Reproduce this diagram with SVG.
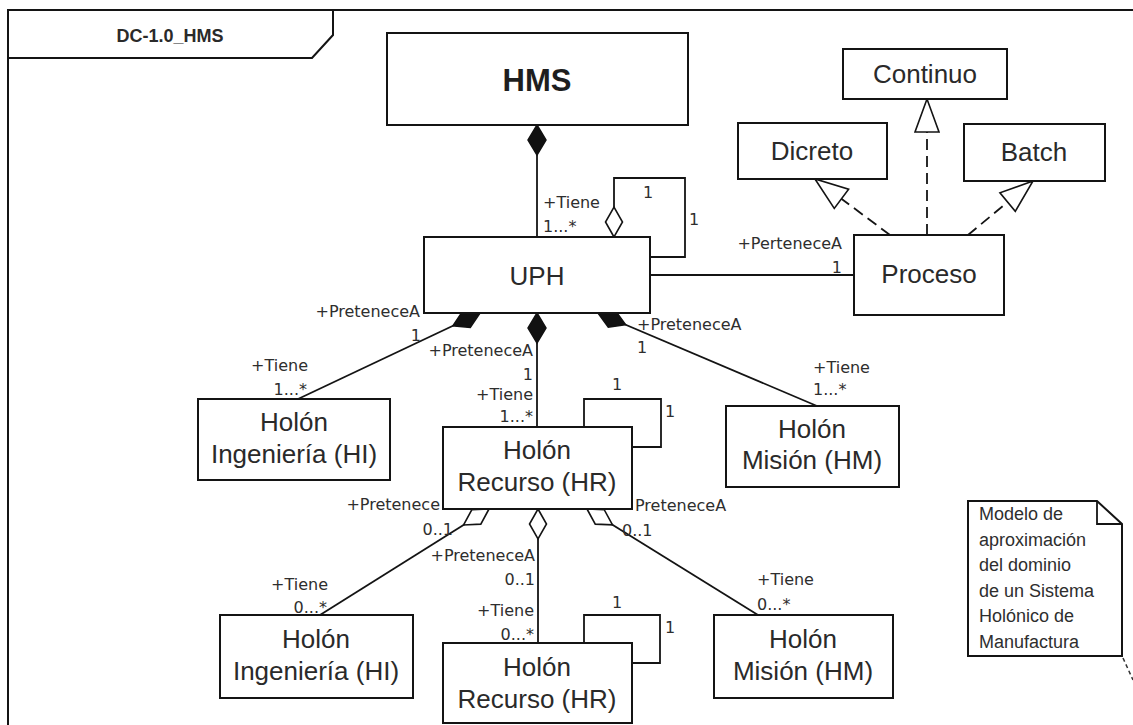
<svg xmlns="http://www.w3.org/2000/svg" width="1133" height="725" viewBox="0 0 1133 725">
  <style>
    .box { fill: #ffffff; stroke: #141414; stroke-width: 2; }
    .name { font-family: "Liberation Sans", Arial, sans-serif; font-size: 26px; fill: #2a2a2a; text-anchor: middle; }
    .lbl { font-family: "DejaVu Sans", Verdana, sans-serif; font-size: 16px; fill: #2e2e2e; }
    .end { text-anchor: end; }
    .mid { text-anchor: middle; }
    .assoc { fill: none; stroke: #141414; stroke-width: 1.8; }
    .real { fill: none; stroke: #141414; stroke-width: 1.8; stroke-dasharray: 11 6; }
    .note { font-family: "Liberation Sans", Arial, sans-serif; font-size: 18px; fill: #2e2e2e; }
  </style>
  <defs>
    <!-- composition: filled diamond at the whole side -->
    <marker id="comp" markerUnits="userSpaceOnUse" markerWidth="40" markerHeight="30" refX="0" refY="0" orient="auto" overflow="visible">
      <path d="M0,0 L15,-9 L30,0 L15,9 Z" fill="#111111" stroke="#111111" stroke-width="1.5" stroke-dasharray="none"/>
    </marker>
    <!-- aggregation: hollow diamond -->
    <marker id="aggr" markerUnits="userSpaceOnUse" markerWidth="40" markerHeight="30" refX="0" refY="0" orient="auto" overflow="visible">
      <path d="M0,0 L15,-8.5 L30,0 L15,8.5 Z" fill="#ffffff" stroke="#141414" stroke-width="1.6" stroke-dasharray="none"/>
    </marker>
    <!-- realization: hollow triangle -->
    <marker id="tri" markerUnits="userSpaceOnUse" markerWidth="40" markerHeight="30" refX="0" refY="0" orient="auto" overflow="visible">
      <path d="M0,0 L-33,-12 L-33,12 Z" fill="#ffffff" stroke="#141414" stroke-width="1.6" stroke-dasharray="none"/>
    </marker>
  </defs>

  <rect x="0" y="0" width="1133" height="725" fill="#ffffff"/>

  <!-- diagram frame -->
  <g id="frame">
    <path d="M8,725 L8,10 L1133,10" fill="none" stroke="#141414" stroke-width="2"/>
    <path d="M8,58 L312,58 L333,35 L333,10" fill="none" stroke="#141414" stroke-width="2"/>
    <text x="170" y="42" font-family="'Liberation Sans', Arial, sans-serif" font-size="18" font-weight="bold" fill="#2a2a2a" text-anchor="middle">DC-1.0_HMS</text>
  </g>

  <!-- connectors -->
  <g id="connectors">
    <!-- HMS to UPH -->
    <path class="assoc" d="M537,125 L537,237" marker-start="url(#comp)"/>
    <text class="lbl" x="543" y="208">+Tiene</text>
    <text class="lbl" x="543" y="232">1...*</text>

    <!-- UPH self association -->
    <path class="assoc" d="M614,237 L614,178 L685,178 L685,257 L650,257" marker-start="url(#aggr)"/>
    <text class="lbl mid" x="648" y="198">1</text>
    <text class="lbl" x="689" y="225">1</text>

    <!-- UPH to Proceso -->
    <path class="assoc" d="M650,275 L854,275"/>
    <text class="lbl end" x="842" y="249">+PerteneceA</text>
    <text class="lbl end" x="842" y="273">1</text>

    <!-- Proceso realizations -->
    <path class="real" d="M927,235 L927,99" marker-end="url(#tri)"/>
    <path class="real" d="M890,235 L815,179" marker-end="url(#tri)"/>
    <path class="real" d="M968,235 L1033,181" marker-end="url(#tri)"/>

    <!-- UPH to Holón Ingeniería -->
    <path class="assoc" d="M480,313 L298,399" marker-start="url(#comp)"/>
    <text class="lbl end" x="420" y="317">+PreteneceA</text>
    <text class="lbl end" x="421" y="341">1</text>
    <text class="lbl end" x="308" y="371">+Tiene</text>
    <text class="lbl end" x="307" y="395">1...*</text>

    <!-- UPH to Holón Recurso -->
    <path class="assoc" d="M537,313 L537,427" marker-start="url(#comp)"/>
    <text class="lbl end" x="533" y="356">+PreteneceA</text>
    <text class="lbl end" x="533" y="380">1</text>
    <text class="lbl end" x="533" y="400">+Tiene</text>
    <text class="lbl end" x="533" y="422">1...*</text>

    <!-- UPH to Holón Misión -->
    <path class="assoc" d="M598,313 L817,406" marker-start="url(#comp)"/>
    <text class="lbl" x="637" y="330">+PreteneceA</text>
    <text class="lbl" x="637" y="353">1</text>
    <text class="lbl" x="813" y="373">+Tiene</text>
    <text class="lbl" x="813" y="395">1...*</text>

    <!-- Holón Recurso self association -->
    <path class="assoc" d="M584,427 L584,399 L661,399 L661,447 L632,447"/>
    <text class="lbl mid" x="617" y="390">1</text>
    <text class="lbl" x="665" y="417">1</text>

    <!-- Holón Recurso to lower Holón Ingeniería -->
    <path class="assoc" d="M489,509 L320,615" marker-start="url(#aggr)"/>
    <text class="lbl end" x="440" y="510">+Pretenece</text>
    <text class="lbl end" x="453" y="535">0..1</text>
    <text class="lbl end" x="328" y="590">+Tiene</text>
    <text class="lbl end" x="327" y="613">0...*</text>

    <!-- Holón Recurso to lower Holón Recurso -->
    <path class="assoc" d="M538,509 L538,643" marker-start="url(#aggr)"/>
    <text class="lbl end" x="535" y="561">+PreteneceA</text>
    <text class="lbl end" x="535" y="585">0..1</text>
    <text class="lbl end" x="534" y="616">+Tiene</text>
    <text class="lbl end" x="534" y="640">0...*</text>

    <!-- Holón Recurso to lower Holón Misión -->
    <path class="assoc" d="M587,509 L758,615" marker-start="url(#aggr)"/>
    <text class="lbl" x="635" y="511">PreteneceA</text>
    <text class="lbl" x="622" y="536">0..1</text>
    <text class="lbl" x="757" y="585">+Tiene</text>
    <text class="lbl" x="757" y="610">0...*</text>

    <!-- lower Holón Recurso self association -->
    <path class="assoc" d="M584,643 L584,615 L660,615 L660,663 L632,663"/>
    <text class="lbl mid" x="617" y="608">1</text>
    <text class="lbl" x="665" y="633">1</text>

    <!-- note anchor -->
    <path d="M1123,658 L1133,680" fill="none" stroke="#333333" stroke-width="1.5" stroke-dasharray="4 3"/>
  </g>

  <!-- nodes -->
  <g id="hms">
    <rect class="box" x="387" y="33" width="301" height="92"/>
    <text x="537" y="91" font-family="'Liberation Sans', Arial, sans-serif" font-size="31" font-weight="bold" fill="#1e1e1e" text-anchor="middle">HMS</text>
  </g>
  <g id="continuo">
    <rect class="box" x="843" y="49" width="164" height="50"/>
    <text class="name" x="925" y="83">Continuo</text>
  </g>
  <g id="dicreto">
    <rect class="box" x="738" y="123" width="149" height="56"/>
    <text class="name" x="812" y="160">Dicreto</text>
  </g>
  <g id="batch">
    <rect class="box" x="964" y="124" width="141" height="57"/>
    <text class="name" x="1034" y="161">Batch</text>
  </g>
  <g id="uph">
    <rect class="box" x="424" y="237" width="226" height="76"/>
    <text class="name" x="537" y="285" font-size="31">UPH</text>
  </g>
  <g id="proceso">
    <rect class="box" x="854" y="235" width="150" height="80"/>
    <text class="name" x="929" y="283">Proceso</text>
  </g>
  <g id="holon-ingenieria">
    <rect class="box" x="198" y="399" width="192" height="81"/>
    <text class="name" x="294" y="431">Holón</text>
    <text class="name" x="294" y="463">Ingeniería (HI)</text>
  </g>
  <g id="holon-recurso">
    <rect class="box" x="443" y="427" width="189" height="82"/>
    <text class="name" x="537" y="459">Holón</text>
    <text class="name" x="537" y="491">Recurso (HR)</text>
  </g>
  <g id="holon-mision">
    <rect class="box" x="726" y="406" width="173" height="81"/>
    <text class="name" x="812" y="438">Holón</text>
    <text class="name" x="812" y="469">Misión (HM)</text>
  </g>
  <g id="holon-ingenieria-2">
    <rect class="box" x="220" y="615" width="193" height="83"/>
    <text class="name" x="316" y="648">Holón</text>
    <text class="name" x="316" y="680">Ingeniería (HI)</text>
  </g>
  <g id="holon-recurso-2">
    <rect class="box" x="443" y="643" width="189" height="80"/>
    <text class="name" x="537" y="676">Holón</text>
    <text class="name" x="537" y="708">Recurso (HR)</text>
  </g>
  <g id="holon-mision-2">
    <rect class="box" x="714" y="615" width="179" height="83"/>
    <text class="name" x="803" y="648">Holón</text>
    <text class="name" x="803" y="680">Misión (HM)</text>
  </g>
  <g id="nota">
    <path d="M968,501 L1097,501 L1122,524 L1122,656 L968,656 Z" fill="#ffffff" stroke="#141414" stroke-width="2"/>
    <path d="M1097,501 L1097,524 L1122,524" fill="none" stroke="#141414" stroke-width="1.8"/>
    <text class="note" x="979" y="520">Modelo de</text>
    <text class="note" x="979" y="546">aproximación</text>
    <text class="note" x="979" y="571">del dominio</text>
    <text class="note" x="979" y="597">de un Sistema</text>
    <text class="note" x="979" y="622">Holónico de</text>
    <text class="note" x="979" y="648">Manufactura</text>
  </g>
</svg>
